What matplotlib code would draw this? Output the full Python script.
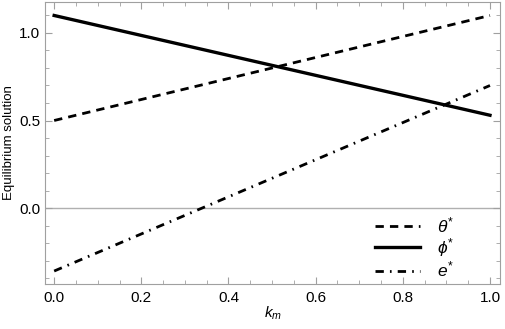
import numpy as np
import matplotlib.pyplot as plt
from matplotlib.ticker import MultipleLocator

plt.rcParams["font.family"] = ["Liberation Sans", "DejaVu Sans"]
plt.rcParams["mathtext.fontset"] = "custom"
plt.rcParams["mathtext.rm"] = "Liberation Sans"
plt.rcParams["mathtext.it"] = "Liberation Sans:italic"

# values (the curves are straight lines)
k_m = [0.0, 0.5, 1.0]
theta_star = [0.50, 0.80, 1.10]
phi_star = [1.10, 0.815, 0.53]
e_star = [-0.36, 0.17, 0.70]

fig = plt.figure(figsize=(5.05, 3.29), dpi=100)
ax = fig.add_axes([45 / 505, 45 / 329, 455 / 505, 282 / 329])

ax.axhline(0, color="#b0b0b0", lw=1.0, zorder=1)
ax.plot(k_m, theta_star, color="black", lw=2.0, ls=(0, (3.0, 2.2)), label=r"$\theta^{*}$")
ax.plot(k_m, phi_star, color="black", lw=2.4, ls="-", label=r"$\phi^{*}$")
ax.plot(k_m, e_star, color="black", lw=2.0, ls=(0, (3.0, 2.2, 0.6, 2.2)), label=r"$e^{*}$")

ax.set_xlim(-0.021, 1.023)
ax.set_ylim(-0.434, 1.177)
ax.xaxis.set_major_locator(MultipleLocator(0.2))
ax.xaxis.set_minor_locator(MultipleLocator(0.05))
ax.yaxis.set_major_locator(MultipleLocator(0.5))
ax.yaxis.set_minor_locator(MultipleLocator(0.1))

for s in ax.spines.values():
    s.set_color("#a0a0a0")
ax.tick_params(which="both", direction="in", top=True, right=True,
               color="#a0a0a0", labelsize=11)
ax.tick_params(which="major", length=5)
ax.tick_params(which="minor", length=3)
ax.tick_params(axis="x", pad=5)

ax.set_xlabel(r"$k_m$", fontsize=11, labelpad=0)
ax.set_ylabel("Equilibrium solution", fontsize=9.5, labelpad=3)

ax.legend(loc="lower right", frameon=False, fontsize=12.5, handlelength=2.6,
          handletextpad=1.0, labelspacing=0.05, borderaxespad=0.0,
          bbox_to_anchor=(0.915, -0.01))

fig.savefig("out.png", dpi=100)
